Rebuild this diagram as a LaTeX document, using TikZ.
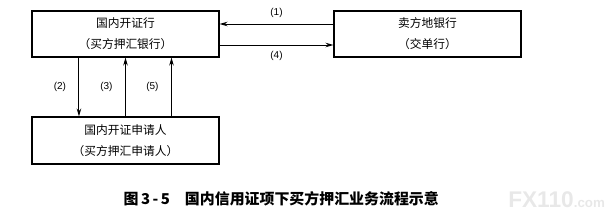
\documentclass[tikz,border=0pt]{standalone}
\usepackage{fontspec}
\usepackage{tikz}
\newfontfamily\cjk{Noto Sans CJK SC}
\newfontfamily\latin{Liberation Sans}
\definecolor{markgray}{RGB}{232,232,232}
\usetikzlibrary{arrows.meta,positioning}

\begin{document}
\begin{tikzpicture}[
    x=0.75pt, y=-0.75pt,
    party/.style={rectangle, minimum width=140.25pt, minimum height=34.5pt, align=center, draw=black, line width=0.8pt, font=\cjk\fontsize{8.8}{15.75}\selectfont, inner sep=0pt},
    arrow/.style={-{Stealth[length=6pt,width=3.4pt]}, line width=0.75pt},
    step label/.style={font=\latin\fontsize{7.5}{8}\selectfont}
]
\useasboundingbox (0,0) rectangle (614,222);

\node[party] (issuer) at (125.5,34) {国内开证行\\（买方押汇银行）};
\node[party] (seller) at (427.5,34) {卖方地银行\\（交单行）};
\node[party, minimum height=35.25pt] (applicant) at (125.5,140.5) {国内开证申请人\\（买方押汇申请人）};

% bank to bank
\draw[arrow] ([yshift=7.5pt]seller.west) -- node[above, step label, yshift=1pt] {(1)} ([yshift=7.5pt]issuer.east);
\draw[arrow] ([yshift=-8.25pt]issuer.east) -- node[below, step label, yshift=-1pt] {(4)} ([yshift=-8.25pt]seller.west);

% applicant and issuing bank
\draw[arrow] ([xshift=-34.9pt]issuer.south) -- node[left, step label, xshift=-6pt] {(2)} ([xshift=-34.9pt]applicant.north);
\draw[arrow] (applicant.north) -- node[left, step label, xshift=-6pt] {(3)} (issuer.south);
\draw[arrow] ([xshift=34.5pt]applicant.north) -- node[left, step label, xshift=-6pt] {(5)} ([xshift=34.5pt]issuer.south);

\node[font=\cjk\bfseries\fontsize{11.2}{12}\selectfont, anchor=west] (caption) at (119,199) {图\,3\,-\,5\quad 国内信用证项下买方押汇业务流程示意};

\node[font=\latin\bfseries\fontsize{17}{18}\selectfont, text=markgray, anchor=west, inner sep=0pt] (mark) at (508,200) {FX110\fontsize{10}{12}\selectfont.com};
\end{tikzpicture}
\end{document}
